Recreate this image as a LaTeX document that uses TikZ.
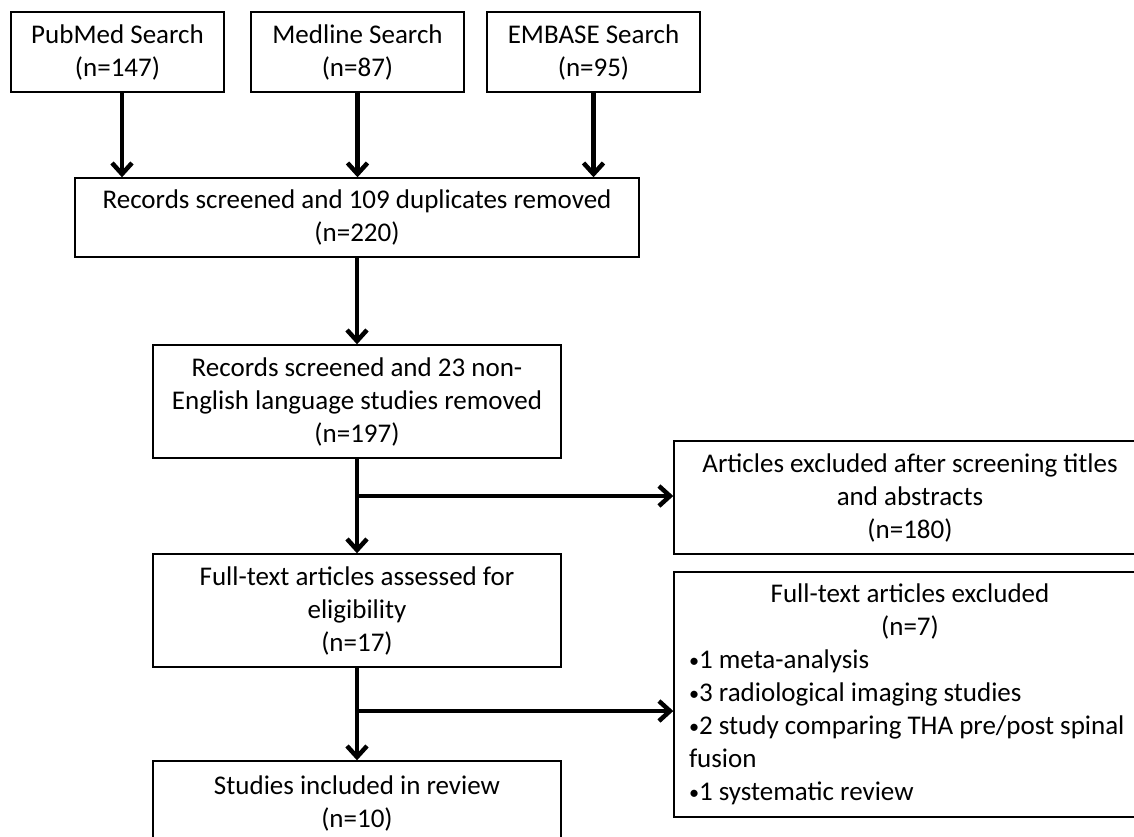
\documentclass[tikz,border=0pt]{standalone}
\usepackage{fontspec}
\setmainfont{Carlito}
\usetikzlibrary{arrows.meta}
\newcommand{\smallbul}{\raisebox{1.5pt}{\scalebox{0.75}{•}}}
\begin{document}
\begin{tikzpicture}[x=1pt,y=-1pt,
  box/.style={draw=black, line width=1.4pt, rectangle, inner sep=0pt, align=center,
    font=\fontsize{27}{33}\selectfont},
  arr/.style={line width=4.5pt, -{Straight Barb[length=11pt,width=20pt]}}]
\useasboundingbox (0,0) rectangle (1134,836);
\clip (0,0) rectangle (1134,836);
\fill[white] (0,0) rectangle (1134,836);
% boxes
\node[box, minimum width=213pt, minimum height=80pt] (pub) at (117.5,52) {PubMed Search\\(n=147)};
\node[box, minimum width=213pt, minimum height=80pt] (med) at (357.5,52) {Medline Search\\(n=87)};
\node[box, minimum width=213pt, minimum height=80pt] (emb) at (593.5,52) {EMBASE Search\\(n=95)};
\node[box, minimum width=564pt, minimum height=79pt] (rec1) at (357,217.5) {Records screened and 109 duplicates removed\\(n=220)};
\node[box, minimum width=408pt, minimum height=113pt] (rec2) at (357,401.5) {Records screened and 23 non-\\English language studies removed\\(n=197)};
\node[box, minimum width=408pt, minimum height=113pt] (ft) at (357,610.5) {Full-text articles assessed for\\eligibility\\(n=17)};
\node[box, minimum width=408pt, minimum height=84pt] (stud) at (357,803) {Studies included in review\\(n=10)};
\node[box, minimum width=472pt, minimum height=113pt] (excl1) at (910,497.5) {Articles excluded after screening titles\\and abstracts\\(n=180)};
\node[box, minimum width=472pt, minimum height=245pt, inner xsep=15pt, text width=442pt, align=none] (excl2) at (910,694.5)
  {\centering Full-text articles excluded\\(n=7)\par
   \raggedright \smallbul1 meta-analysis\\\smallbul3 radiological imaging studies\\\smallbul2 study comparing THA pre/post spinal\\fusion\\\smallbul1 systematic review\par};
% connectors
\coordinate (p1) at ([xshift=4.5pt]pub.south);
\coordinate (m1) at (med.south);
\coordinate (e1) at (emb.south);
\draw[arr] (p1) -- (p1 |- rec1.north);
\draw[arr] (m1) -- (m1 |- rec1.north);
\draw[arr] (e1) -- (e1 |- rec1.north);
\draw[arr] (rec1.south) -- (rec2.north);
\draw[arr] (rec2.south) -- (ft.north);
\coordinate (b1) at (357,496);
\draw[arr] (b1) -- (b1 -| excl1.west);
\draw[arr] (ft.south) -- (stud.north);
\coordinate (b2) at (357,711);
\draw[arr] (b2) -- (b2 -| excl2.west);
\end{tikzpicture}
\end{document}
